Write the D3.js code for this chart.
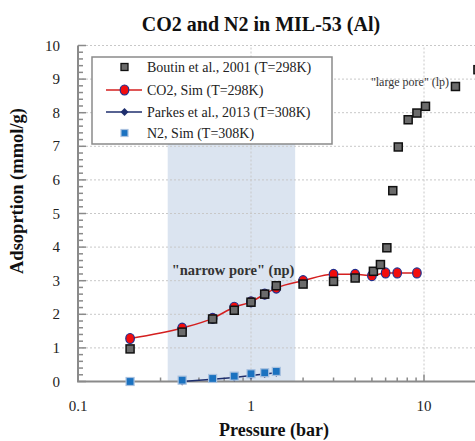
<!DOCTYPE html>
<html><head><meta charset="utf-8">
<script src="https://cdn.jsdelivr.net/npm/d3@7"></script>
<style>body{margin:0;background:#fff}svg{display:block}text{font-family:"Liberation Serif","DejaVu Serif",serif}</style>
</head><body><svg id="c" width="475" height="441"></svg>
<script>
const boutinP = [0.2,0.4,0.6,0.8,1.0,1.2,1.4,2.0,3.0,4.0,5.1,5.6,6.1,6.6,7.1,8.1,9.1,10.2,15.2,20.5];
const boutinQ = [0.97,1.47,1.86,2.12,2.36,2.6,2.85,2.9,2.98,3.08,3.28,3.48,3.98,5.68,6.98,7.79,7.99,8.19,8.78,9.28];
const co2P = [0.2,0.4,0.6,0.8,1.0,1.2,1.4,2.0,3.0,4.0,5.0,6.0,7.0,9.1];
const co2Q = [1.28,1.59,1.88,2.21,2.37,2.6,2.78,3.0,3.19,3.19,3.15,3.23,3.23,3.23];
const parkesP = [0.4,0.6,0.8,1.0,1.2,1.4];
const parkesQ = [0.0,0.07,0.12,0.18,0.22,0.26];
const n2P = [0.2,0.4,0.6,0.8,1.0,1.2,1.4];
const n2Q = [0.0,0.04,0.09,0.16,0.23,0.26,0.3];
const xTicks = [0.1,1,10];
const yTicks = [0,1,2,3,4,5,6,7,8,9,10];
const npRange = [0.33,1.8];
const legendLabels = ["Boutin et al., 2001 (T=298K)","CO2, Sim (T=298K)","Parkes et al., 2013 (T=308K)","N2, Sim (T=308K)"];

const svg = d3.select("#c");
const x = d3.scaleLog().domain([0.1,100]).range([78,597]);
const y = d3.scaleLinear().domain([0,10]).range([381.5,45.5]);

// shaded narrow pore region
svg.append("rect").attr("x",x(npRange[0])).attr("width",x(npRange[1])-x(npRange[0]))
  .attr("y",y(8)).attr("height",y(0)-y(8)).attr("fill","#dbe4f0");

// gridlines
const grid = svg.append("g").attr("stroke","#c8c8c8").attr("stroke-width",1).attr("stroke-dasharray","2,2");
yTicks.filter(d=>d>0).forEach(d=>grid.append("line").attr("x1",78).attr("x2",597).attr("y1",y(d)).attr("y2",y(d)));
[1,10,100].forEach(d=>grid.append("line").attr("x1",x(d)).attr("x2",x(d)).attr("y1",y(0)).attr("y2",y(10)));

// y axis with inward ticks
const yMinor = d3.range(0,10.01,0.2);
const yAxis = svg.append("g");
yMinor.forEach(v=>{
  const major = Math.abs(v-Math.round(v))<1e-6;
  yAxis.append("line").attr("x1",78).attr("x2",78+(major?8:5)).attr("y1",y(v)).attr("y2",y(v))
    .attr("stroke","#8a8a8a").attr("stroke-width",1.5);
});
yAxis.append("line").attr("x1",78).attr("x2",78).attr("y1",y(0)).attr("y2",y(10)).attr("stroke","#8a8a8a").attr("stroke-width",2);
yTicks.forEach(v=>svg.append("text").attr("x",60).attr("y",y(v)+5).attr("text-anchor","end")
  .attr("font-size",15).attr("fill","#222").text(v));

// x axis with inward ticks
const xAxis = svg.append("g");
const xMinor = [];
[0.1,1,10].forEach(d=>{for(let k=1;k<=9;k++) xMinor.push(d*k);});
xMinor.push(100);
xMinor.forEach(v=>{
  const major = [0.1,1,10,100].some(t=>Math.abs(t-v)/t<1e-6);
  xAxis.append("line").attr("x1",x(v)).attr("x2",x(v)).attr("y1",y(0)).attr("y2",y(0)-(major?7:4))
    .attr("stroke","#8a8a8a").attr("stroke-width",1.5);
});
xAxis.append("line").attr("x1",77).attr("x2",597).attr("y1",y(0)).attr("y2",y(0)).attr("stroke","#8a8a8a").attr("stroke-width",2);
xTicks.forEach(v=>svg.append("text").attr("x",x(v)).attr("y",411).attr("text-anchor","middle")
  .attr("font-size",15).attr("fill","#222").text(v));

// Parkes line + diamonds
const lineGen = d3.line().x(d=>x(d[0])).y(d=>y(d[1]));
const parkes = parkesP.map((p,i)=>[p,parkesQ[i]]);
svg.append("path").attr("d",lineGen(parkes)).attr("fill","none").attr("stroke","#1f2f6e").attr("stroke-width",1.5);
const diamond = d3.symbol().type(d3.symbolDiamond2).size(40);
svg.selectAll(".pk").data(parkes).join("path").attr("transform",d=>`translate(${x(d[0])},${y(d[1])})`)
  .attr("d",diamond).attr("fill","#1f2f6e");

// N2 squares
const n2 = n2P.map((p,i)=>[p,n2Q[i]]);
svg.selectAll(".n2").data(n2).join("rect").attr("x",d=>x(d[0])-4).attr("y",d=>y(d[1])-4)
  .attr("width",8).attr("height",8).attr("fill","#1b72c0").attr("stroke","#a9c1df").attr("stroke-width",1.2);

// CO2 sim
const co2 = co2P.map((p,i)=>[p,co2Q[i]]);
const curve = d3.line().x(d=>x(d[0])).y(d=>y(d[1])).curve(d3.curveMonotoneX);
svg.append("path").attr("d",curve(co2)).attr("fill","none").attr("stroke","#d41f1f").attr("stroke-width",1.5);
svg.selectAll(".co2").data(co2).join("ellipse").attr("cx",d=>x(d[0])).attr("cy",d=>y(d[1]))
  .attr("rx",4.3).attr("ry",5).attr("fill","#f20d0d").attr("stroke","#1f2f8e").attr("stroke-width",1.2);

// Boutin squares
const boutin = boutinP.map((p,i)=>[p,boutinQ[i]]);
svg.selectAll(".bt").data(boutin).join("rect").attr("x",d=>x(d[0])-4).attr("y",d=>y(d[1])-4)
  .attr("width",8).attr("height",8).attr("fill","#6b6b6b").attr("stroke","#111").attr("stroke-width",1.5);

// annotations
svg.append("text").attr("x",233).attr("y",275).attr("text-anchor","middle").attr("font-size",14.5)
  .attr("font-weight","bold").attr("fill","#333").text("\"narrow pore\" (np)");
svg.append("text").attr("x",410).attr("y",86).attr("text-anchor","middle").attr("font-size",12)
  .attr("fill","#333").text("\"large pore\" (lp)");

// legend
const lg = svg.append("g");
lg.append("rect").attr("x",92).attr("y",57).attr("width",240).attr("height",87)
  .attr("fill","#fff").attr("stroke","#8a8a8a").attr("stroke-width",1.5);
const rowsY = [67,90,112,133];
const mx = 124.5;
lg.append("rect").attr("x",mx-3.5).attr("y",rowsY[0]-3.5).attr("width",7).attr("height",7)
  .attr("fill","#6b6b6b").attr("stroke","#111").attr("stroke-width",1.3);
lg.append("line").attr("x1",106).attr("x2",142).attr("y1",rowsY[1]).attr("y2",rowsY[1]).attr("stroke","#d41f1f").attr("stroke-width",1.5);
lg.append("ellipse").attr("cx",mx).attr("cy",rowsY[1]).attr("rx",4.3).attr("ry",5).attr("fill","#f20d0d").attr("stroke","#1f2f8e").attr("stroke-width",1.2);
lg.append("line").attr("x1",106).attr("x2",142).attr("y1",rowsY[2]).attr("y2",rowsY[2]).attr("stroke","#1f2f6e").attr("stroke-width",1.5);
lg.append("path").attr("transform",`translate(${mx},${rowsY[2]})`).attr("d",diamond).attr("fill","#1f2f6e");
lg.append("rect").attr("x",mx-3.5).attr("y",rowsY[3]-3.5).attr("width",7).attr("height",7)
  .attr("fill","#1b72c0").attr("stroke","#a9c1df").attr("stroke-width",1.2);
legendLabels.forEach((t,i)=>lg.append("text").attr("x",147).attr("y",rowsY[i]+5).attr("font-size",14)
  .attr("fill","#222").text(t));

// titles
svg.append("text").attr("x",261).attr("y",31).attr("text-anchor","middle").attr("font-size",20)
  .attr("font-weight","bold").attr("fill","#111").text("CO2 and N2 in MIL-53 (Al)");
svg.append("text").attr("x",274).attr("y",436).attr("text-anchor","middle").attr("font-size",18)
  .attr("font-weight","bold").attr("fill","#111").text("Pressure (bar)");
svg.append("text").attr("transform","translate(23,191) rotate(-90)").attr("text-anchor","middle").attr("font-size",18.5)
  .attr("font-weight","bold").attr("fill","#111").text("Adsoprtion (mmol/g)");
</script></body></html>
